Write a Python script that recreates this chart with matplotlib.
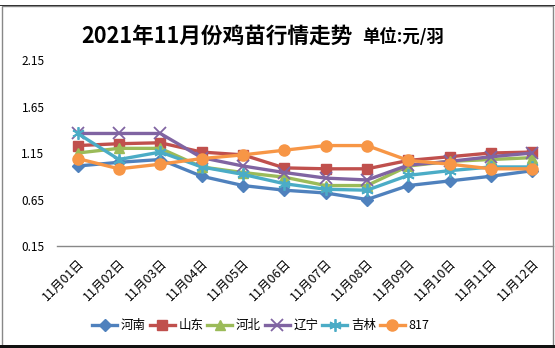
import matplotlib
matplotlib.use("Agg")
import matplotlib.pyplot as plt
from matplotlib.patches import Rectangle

plt.rcParams['font.family'] = ['Noto Sans CJK SC', 'DejaVu Sans']

dates = ["11月01日", "11月02日", "11月03日", "11月04日", "11月05日", "11月06日",
         "11月07日", "11月08日", "11月09日", "11月10日", "11月11日", "11月12日"]

henan    = [1.01, 1.05, 1.08, 0.90, 0.80, 0.75, 0.72, 0.65, 0.80, 0.85, 0.90, 0.96]
shandong = [1.23, 1.25, 1.26, 1.16, 1.13, 0.99, 0.98, 0.98, 1.07, 1.11, 1.15, 1.16]
hebei    = [1.15, 1.20, 1.20, 1.00, 0.94, 0.89, 0.80, 0.80, 1.01, 1.06, 1.08, 1.10]
liaoning = [1.36, 1.36, 1.36, 1.10, 1.01, 0.94, 0.88, 0.86, 1.02, 1.06, 1.11, 1.15]
jilin    = [1.36, 1.08, 1.16, 1.00, 0.92, 0.82, 0.76, 0.75, 0.91, 0.96, 1.00, 1.00]
s817     = [1.09, 0.98, 1.03, 1.09, 1.13, 1.18, 1.23, 1.23, 1.07, 1.03, 0.98, 0.98]

series = [
    ("河南", henan, "#4F81BD", "D", 6),
    ("山东", shandong, "#C0504D", "s", 7),
    ("河北", hebei, "#9BBB59", "^", 7),
    ("辽宁", liaoning, "#8064A2", "x", 8),
    ("吉林", jilin, "#4BACC6", (6, 2, 0), 9),
    ("817", s817, "#F79646", "o", 8),
]
yticks = [0.15, 0.65, 1.15, 1.65, 2.15]

fig = plt.figure(figsize=(5.55, 3.48), dpi=100)
ax = fig.add_axes([57/555, (348-246)/348, (553-57)/555, (246-60)/348])

x = list(range(len(dates)))
for name, vals, col, mk, ms in series:
    if mk in ("x", (6, 2, 0)):
        ax.plot(x, vals, color=col, lw=2.4, marker=mk, ms=ms, mew=1.3,
                mec=col, label=name, solid_joinstyle='round')
    else:
        ax.plot(x, vals, color=col, lw=2.4, marker=mk, ms=ms, mec=col,
                mfc=col, label=name, solid_joinstyle='round')

ax.set_xlim(-0.5, len(dates) - 0.5)
ax.set_ylim(0.15, 2.15)
ax.set_yticks(yticks)
ax.set_yticklabels([f"{v:.2f}" for v in yticks], fontsize=8.5)
ax.set_xticks(x)
ax.set_xticklabels(dates, rotation=45, ha='right', va='top',
                   rotation_mode='anchor', fontsize=9)
for s in ["top", "right", "left"]:
    ax.spines[s].set_visible(False)
ax.spines["bottom"].set_color("#888888")
ax.spines["bottom"].set_linewidth(1.0)
ax.tick_params(axis='x', length=0, pad=8)
ax.tick_params(axis='y', length=0, pad=9)

fig.text(353/555, 0.895, "2021年11月份鸡苗行情走势", fontsize=15.6, fontweight='bold',
         ha='right', va='center')
fig.text(362/555, 0.893, "单位:元/羽", fontsize=12.5, fontweight='bold',
         ha='left', va='center')

leg = fig.legend(loc='center', bbox_to_anchor=(0.47, 0.065), ncol=6, frameon=False,
                 fontsize=9, handlelength=2.0, columnspacing=0.3, handletextpad=0.3)

fig.patches.append(Rectangle((1.5/555, 2/348), 551.5/555, 340/348, transform=fig.transFigure,
                             fill=False, ec="#888888", lw=1.0))
fig.patches.append(Rectangle((0, (348-6)/348), 1, 1/348, transform=fig.transFigure,
                             fill=True, fc="#333333", ec="none"))
fig.patches.append(Rectangle((0, 0), 1, 3/348, transform=fig.transFigure,
                             fill=True, fc="#111111", ec="none"))

fig.savefig("out.png", dpi=100)
